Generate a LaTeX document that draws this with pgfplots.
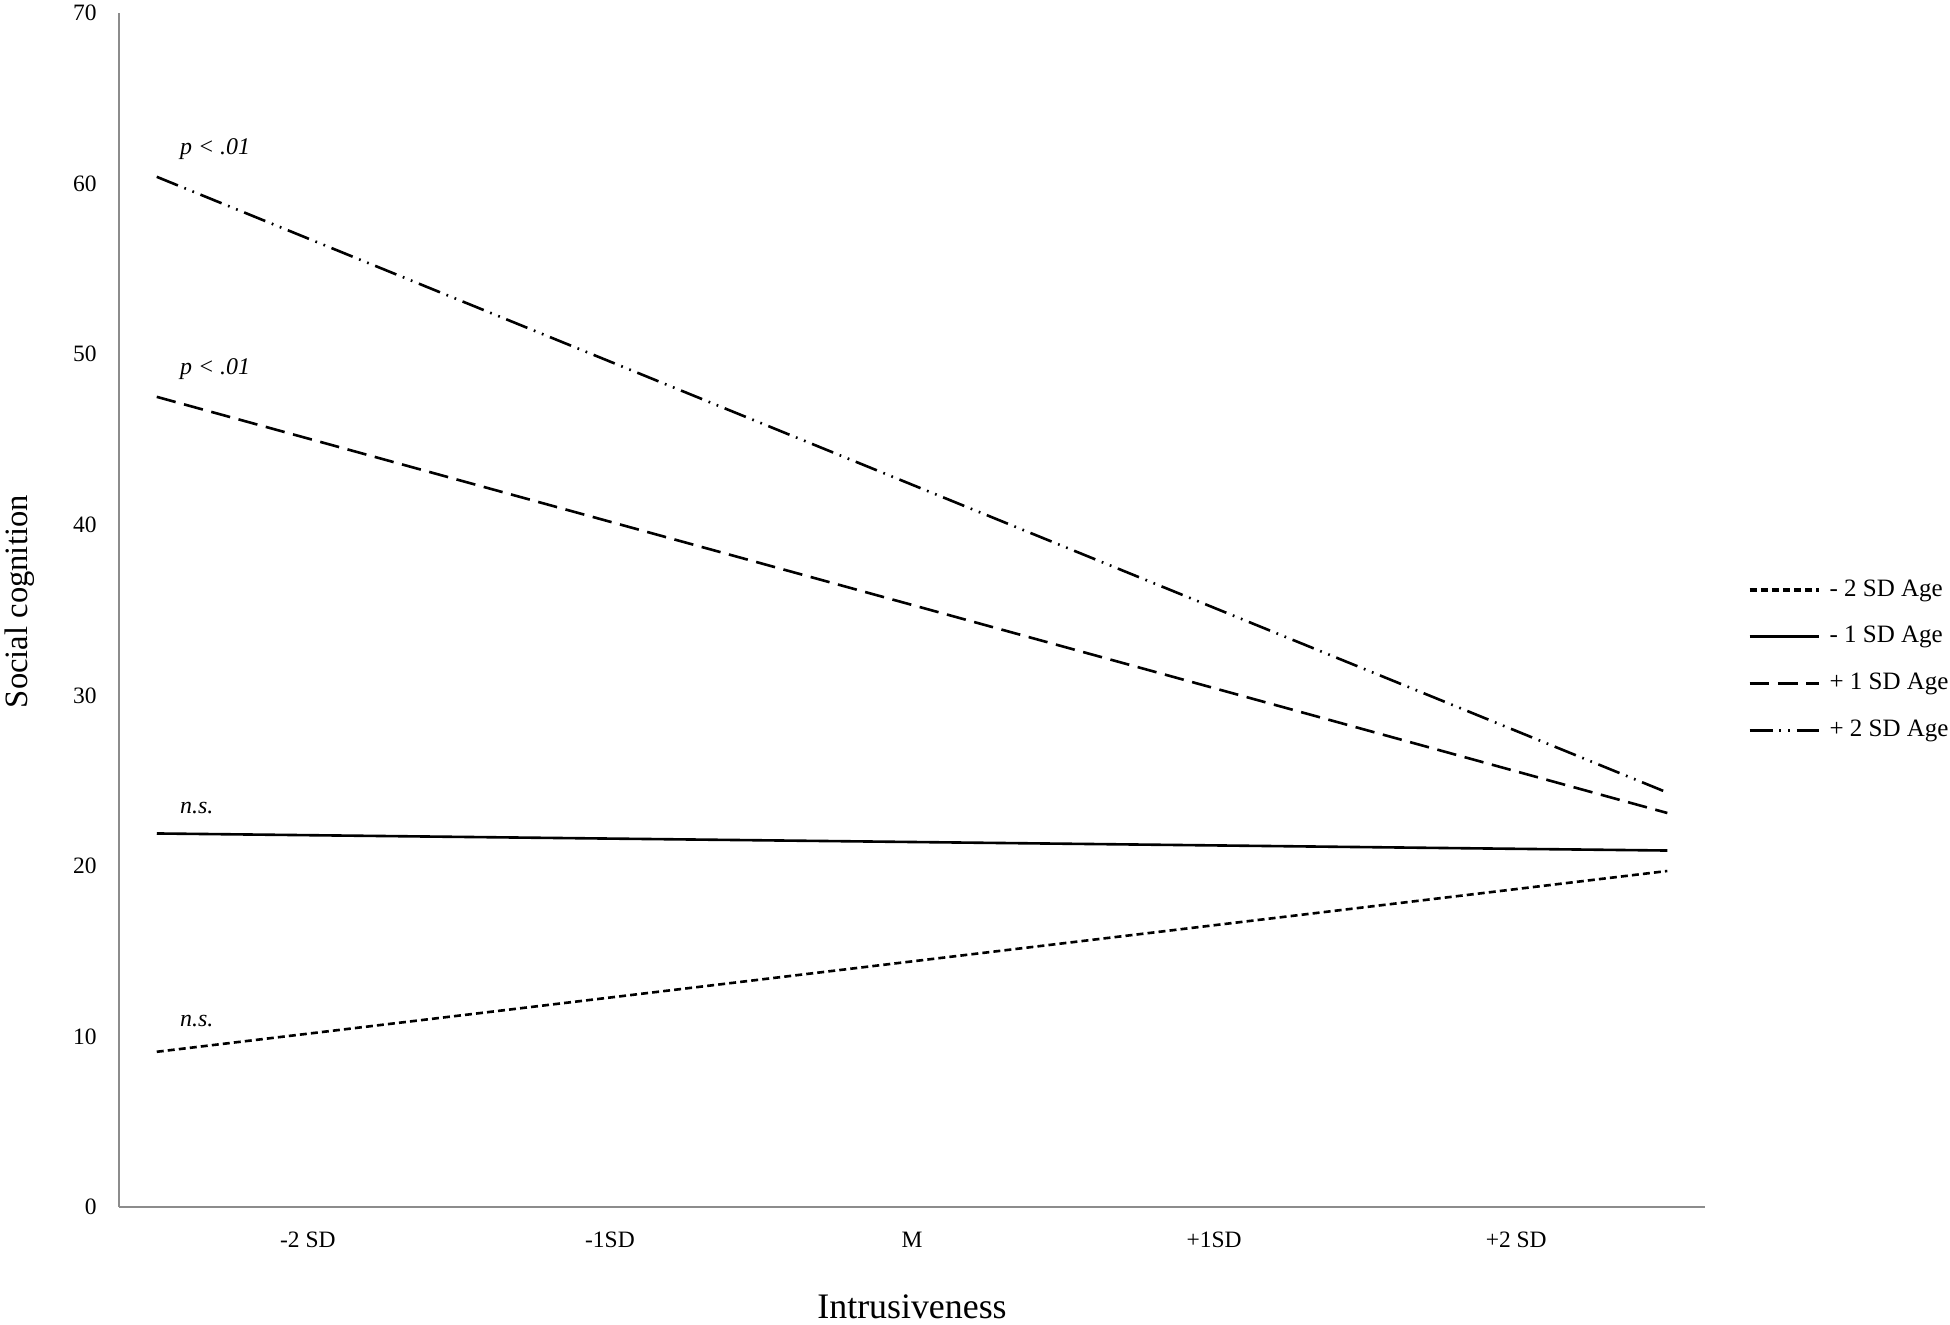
\documentclass[border=0pt]{standalone}
\usepackage{pgfplots}
\pgfplotsset{compat=1.18}
\usepackage{fontspec}
\setmainfont{Liberation Serif}
\definecolor{axgray}{gray}{0.55}
\begin{document}
\begin{tikzpicture}
\useasboundingbox (-54.74pt,-54.28pt) rectangle (842.26pt,555.22pt);
\begin{axis}[
  scale only axis,
  width=729.6pt, height=549.2pt,
  xmin=-0.625, xmax=4.625,
  ymin=0, ymax=70,
  axis x line=bottom, axis y line=left,
  axis line style={-, draw=axgray, line width=0.9pt},
  xtick={0,1,2,3,4},
  xticklabels={-2 SD,-1SD,M,+1SD,+2 SD},
  ytick={0,10,...,70},
  major tick length=0pt,
  /pgf/number format/assume math mode=true,
  tick label style={font=\fontsize{10.8}{12}\selectfont},
  xticklabel style={yshift=-8pt},
  yticklabel style={xshift=-6.8pt},
  xlabel={Intrusiveness},
  ylabel={Social cognition},
  xlabel style={font=\fontsize{16.5}{18}\selectfont, at={(axis description cs:0.5,-0.084)}, anchor=center, inner sep=1pt},
  ylabel style={font=\fontsize{15}{17}\selectfont, at={(axis description cs:-0.0624,0.507)}, anchor=center},
  clip=false,
  legend cell align=left,
  legend style={at={(axis description cs:1.0271,0.458)}, anchor=west, draw=none, fill=none,
    inner sep=0pt, outer sep=0pt, font=\fontsize{11.5}{13}\selectfont,
    nodes={inner sep=0pt, text height=8pt, text depth=2.5pt},
    row sep=11pt, column sep=4pt},
  legend image code/.code={\draw[#1, line width=1.5pt] (0pt,0pt) -- (32pt,0pt);},
]
\addplot[black, line width=1.2pt, dash pattern=on 3.2pt off 1.9pt] coordinates {(-0.5,9.1) (4.5,19.7)};
\addlegendentry{- 2 SD Age}
\addplot[black, line width=1.2pt] coordinates {(-0.5,21.9) (4.5,20.9)};
\addlegendentry{- 1 SD Age}
\addplot[black, line width=1.2pt, dash pattern=on 9pt off 4pt] coordinates {(-0.5,47.5) (4.5,23.1)};
\addlegendentry{+ 1 SD Age}
\addplot[black, line width=1.2pt, dash pattern=on 10.5pt off 3.2pt on 0.8pt off 3.2pt on 0.8pt off 3.2pt] coordinates {(-0.5,60.4) (4.5,24.3)};
\addlegendentry{+ 2 SD Age}
\node[anchor=base west, font=\itshape\fontsize{11}{13}\selectfont, inner sep=0pt] at (axis cs:-0.424,61.7) {p < .01};
\node[anchor=base west, font=\itshape\fontsize{11}{13}\selectfont, inner sep=0pt] at (axis cs:-0.424,48.8) {p < .01};
\node[anchor=base west, font=\itshape\fontsize{11}{13}\selectfont, inner sep=0pt] at (axis cs:-0.424,23.1) {n.s.};
\node[anchor=base west, font=\itshape\fontsize{11}{13}\selectfont, inner sep=0pt] at (axis cs:-0.424,10.6) {n.s.};
\end{axis}
\end{tikzpicture}
\end{document}
